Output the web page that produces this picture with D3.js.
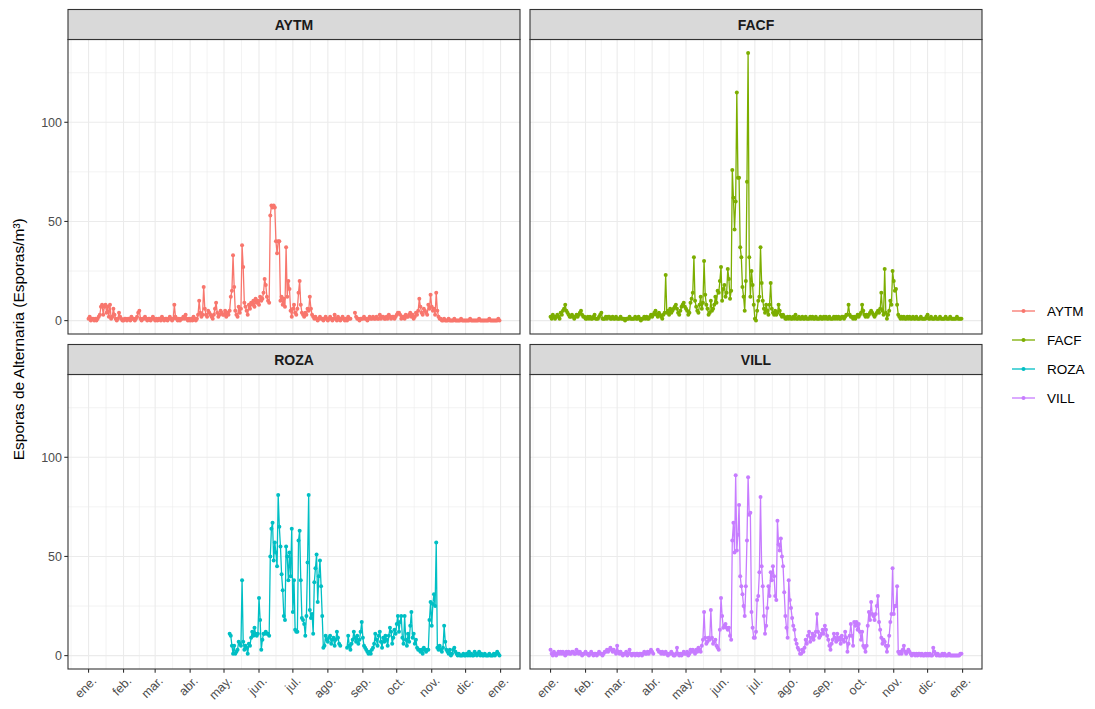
<!DOCTYPE html>
<html>
<head>
<meta charset="utf-8">
<script src="https://cdn.jsdelivr.net/npm/d3@7"></script>
<style>
  html, body { margin: 0; padding: 0; background: #ffffff; }
  svg { display: block; font-family: "Liberation Sans", Arial, sans-serif; }
</style>
</head>
<body>
<svg id="chart" width="1095" height="709"></svg>
<script>
// ---------------- DATA ----------------
const stations = ["AYTM", "FACF", "ROZA", "VILL"];
const colors = ["#F8766D", "#7CAE00", "#00BFC4", "#C77CFF"];
const monthLabels = ["ene.", "feb.", "mar.", "abr.", "may.", "jun.", "jul.", "ago.", "sep.", "oct.", "nov.", "dic.", "ene."];
const yTicks = [0, 50, 100];
const yTitle = "Esporas de Alternaria (Esporas/m\u00B3)";
const year = 2019;

// daily values, 1 Jan .. 31 Dec (null = no sample)
const aytm = [
  1,2,0,1,1,0,1,0,1,2, 3,7,8,3,7,8,4,7,2,8, 1,2,6,3,1,0,1,4,2,1, 0,            // ene
  0,1,1,0,1,1,0,2,1,1, 0,1,2,4,5,1,0,1,1,2, 1,0,1,1,0,1,2,1,                  // feb
  0,1,0,1,1,0,2,1,0,1, 1,0,1,2,1,0,1,8,2,1, 0,1,0,1,1,2,1,3,1,0, 1,           // mar
  0,1,0,2,1,0,1,3,10,4, 2,3,17,6,3,2,5,4,3,2, 1,3,6,9,4,2,3,5,4,3,            // abr
  3,5,2,4,3,5,12,15,33,17, 5,3,2,7,4,6,38,27,9,7, 5,3,8,6,9,8,10,7,11,9, 10,  // may
  8,12,10,11,14,21,18,12,10,9, 53,58,57,58,57,40,34,40,40,10, 12,8,11,7,37,12,20,16,5,2, // jun
  6,8,4,3,6,14,20,8,4,3, 2,4,3,6,5,12,6,3,2,1, 2,1,0,1,2,1,1,0,1,2, 1,        // jul
  0,1,2,1,0,1,3,1,0,2, 1,0,1,2,1,0,1,0,2,1, 1,null,null,null,4,2,1,1,0,1, 1,  // ago
  1,2,1,1,0,1,2,1,1,2, 1,1,2,1,1,3,1,2,2,1, 1,2,1,3,2,1,2,2,1,2,              // sep
  3,4,4,3,1,2,2,1,3,2, 2,3,4,2,3,1,2,4,3,5, 11,7,4,3,6,5,4,3,8,6, 13,         // oct
  7,5,6,3,14,5,2,1,1,0, 0,1,0,0,0,1,0,0,0,0, 1,0,0,0,0,0,1,0,0,0,            // nov
  0,0,0,0,1,0,0,0,0,0, 0,0,1,0,0,0,0,0,0,0, 0,1,0,0,0,0,0,0,0,1, 0           // dic
];
const facf = [
  2,1,3,2,1,2,3,2,1,4, 3,5,6,8,5,4,3,2,2,3, 2,1,2,3,2,3,4,5,3,2, 2,
  1,1,2,1,2,1,1,2,3,1, 1,1,2,3,4,1,1,1,2,1, 2,2,1,1,2,1,1,2,
  1,1,1,2,1,1,1,0,1,1, 1,2,1,1,1,1,2,1,1,2, 1,0,1,1,2,1,2,1,1,2, 3,
  2,3,4,5,3,2,4,3,2,1, 3,4,23,4,5,3,6,4,5,6, 7,8,6,4,3,5,7,8,9,7,
  6,5,3,4,9,11,14,32,10,7, 5,4,8,12,6,9,30,13,8,6, 3,4,10,5,6,8,12,9,15,14, 20,
  27,10,16,18,12,14,26,21,11,15, 76,62,46,60,115,72,72,37,32,17, 12,5,20,70,135,32,12,25,18,8,
  1,0,5,10,12,37,19,10,6,4, 8,5,3,8,19,6,4,3,5,3, 4,8,5,3,2,3,2,1,1,2, 1,
  2,1,1,2,1,3,1,1,2,1, 1,2,1,1,2,1,1,1,2,1, 2,1,1,2,1,1,1,2,1,1, 2,
  1,2,1,1,2,1,1,1,2,1, 2,1,2,1,1,2,2,1,2,3, 3,8,3,2,2,1,2,1,2,3,
  2,3,4,8,5,3,2,3,2,3, 4,5,4,3,2,3,4,5,4,6, 14,5,3,26,4,1,3,5,10,8, 25,
  20,15,16,8,3,2,1,2,1,2, 1,1,2,1,2,1,1,2,1,1, 2,1,1,1,2,1,1,1,1,2,
  3,1,1,2,1,1,1,2,1,1, 1,2,1,1,1,1,2,1,1,1, 2,1,1,1,1,1,2,1,1,1, 1
];
const roza = [
  null,null,null,null,null,null,null,null,null,null, null,null,null,null,null,null,null,null,null,null, null,null,null,null,null,null,null,null,null,null, null,
  null,null,null,null,null,null,null,null,null,null, null,null,null,null,null,null,null,null,null,null, null,null,null,null,null,null,null,null,
  null,null,null,null,null,null,null,null,null,null, null,null,null,null,null,null,null,null,null,null, null,null,null,null,null,null,null,null,null,null, null,
  null,null,null,null,null,null,null,null,null,null, null,null,null,null,null,null,null,null,null,null, null,null,null,null,null,null,null,null,null,null,
  null,null,null,null,null,11,10,5,1,5, 1,2,3,7,6,5,38,7,3,5, 4,1,6,5,9,12,10,14,11,10, 11,
  29,18,3,8,11,11,12,11,11,10, 50,64,67,48,57,52,45,81,65,55, 41,33,20,18,55,50,38,52,40,64,
  22,38,13,12,12,58,63,38,19,18, 16,10,20,47,81,23,19,21,11,37, 44,51,27,40,48,35,20,4,5,10, 8,
  7,9,10,6,8,9,5,8,12,9, 6,5,null,null,null,null,null,4,10,5, 3,6,8,12,9,7,10,6,8,12, 17,
  9,5,4,3,2,1,2,1,3,4, 6,11,8,5,10,12,7,4,9,7, 10,8,5,10,14,12,6,9,13,11,
  16,20,12,17,20,9,6,20,8,5, 11,7,15,22,9,11,6,8,4,3, 3,2,3,1,4,3,2,3,3,18, 27,
  15,26,31,25,57,4,3,5,3,2, 4,15,7,3,2,1,3,0,1,3, 4,2,1,0,1,0,0,0,1,0,
  0,1,0,2,0,1,0,0,2,1, 0,1,2,0,1,0,0,1,0,0, 0,1,0,0,0,1,0,1,2,1, 0
];
const vill = [
  3,1,0,2,1,0,1,2,1,2, 1,2,1,0,2,1,2,1,1,2, 2,1,1,3,2,1,2,1,0,1, 1,
  2,1,1,0,1,2,1,0,1,1, 0,1,2,1,1,0,1,2,2,3, 2,3,4,3,2,3,2,1,
  5,2,1,2,1,0,1,1,2,0, 1,3,1,0,1,1,0,1,1,0, 1,1,0,1,2,1,1,2,1,2, 3,
  2,1,null,null,null,3,2,2,1,2, 1,1,2,1,0,1,1,2,1,0, 0,1,4,1,0,1,0,1,2,1,
  1,2,0,1,3,2,3,2,1,3, 2,4,3,2,5,8,22,9,6,7, 9,8,23,9,6,7,8,5,4,3, 13,
  29,20,14,15,16,14,13,14,10,8, 58,67,52,91,53,61,76,40,35,31, 25,20,35,58,90,71,72,22,14,9,
  9,12,28,30,42,80,45,35,20,11, 15,24,35,30,42,38,45,40,30,28, 68,56,53,59,50,45,32,20,14,9, 38,
  28,24,19,15,13,8,6,4,3,1, 1,3,2,4,8,6,10,12,7,9, 11,8,10,12,21,12,9,10,11,13, 11,
  15,13,10,8,5,3,6,8,11,9, 7,11,8,9,6,10,8,7,12,9, 2,6,10,16,10,5,17,15,17,13,
  16,12,8,12,5,4,2,5,15,22, 18,27,21,20,18,21,25,30,17,13, 9,6,8,7,5,2,5,10,17,21, 44,
  21,25,25,35,2,1,2,1,3,5, 2,1,2,3,2,1,0,1,1,0, 1,0,1,1,0,1,0,0,1,0,
  1,0,1,0,0,4,2,1,0,1, 0,0,0,1,0,1,0,0,0,1, 0,0,0,0,0,0,0,0,0,1, 1
];
const seriesValues = [aytm, facf, roza, vill];

// ---------------- LAYOUT ----------------
const svg = d3.select("#chart");
const panelW = 452;
const colX = [68, 530];
const rowY = [{strip: 9.5, top: 39.5, bottom: 334}, {strip: 344.5, top: 374.5, bottom: 669}];
const DAY = 86400000;
const start = new Date(year, 0, 1), end = new Date(year, 11, 31);
const span = (end - start) / DAY;
const pad = span * 0.05;
const xDomain = [new Date(+start - pad * DAY), new Date(+end + pad * DAY)];
const yDomain = [-135 * 0.05, 135 * 1.05];
const monthTicks = d3.range(13).map(m => new Date(year, m, 1));
const minorX = d3.range(12).map(i => new Date((+monthTicks[i] + +monthTicks[i + 1]) / 2));
const minorX0 = new Date(+monthTicks[0] - (monthTicks[1] - monthTicks[0]) / 2);
const minorY = [25, 75, 125];

stations.forEach((st, i) => {
  const col = i % 2, row = Math.floor(i / 2);
  const x0 = colX[col], r = rowY[row];
  const x = d3.scaleTime().domain(xDomain).range([x0, x0 + panelW]);
  const y = d3.scaleLinear().domain(yDomain).range([r.bottom, r.top]);
  const g = svg.append("g");

  g.append("rect").attr("x", x0).attr("y", r.top).attr("width", panelW).attr("height", r.bottom - r.top).attr("fill", "#fff");
  g.selectAll(null).data(minorX.concat([minorX0]).filter(d => x(d) > x0 && x(d) < x0 + panelW)).enter().append("line")
    .attr("x1", d => x(d)).attr("x2", d => x(d)).attr("y1", r.top).attr("y2", r.bottom)
    .attr("stroke", "#EBEBEB").attr("stroke-width", 0.6);
  g.selectAll(null).data(minorY).enter().append("line")
    .attr("x1", x0).attr("x2", x0 + panelW).attr("y1", d => y(d)).attr("y2", d => y(d))
    .attr("stroke", "#EBEBEB").attr("stroke-width", 0.6);
  g.selectAll(null).data(monthTicks).enter().append("line")
    .attr("x1", d => x(d)).attr("x2", d => x(d)).attr("y1", r.top).attr("y2", r.bottom)
    .attr("stroke", "#EBEBEB").attr("stroke-width", 1.1);
  g.selectAll(null).data(yTicks).enter().append("line")
    .attr("x1", x0).attr("x2", x0 + panelW).attr("y1", d => y(d)).attr("y2", d => y(d))
    .attr("stroke", "#EBEBEB").attr("stroke-width", 1.1);

  const data = seriesValues[i].map((v, k) => ({date: new Date(year, 0, 1 + k), value: v}));
  const line = d3.line().defined(d => d.value != null).x(d => x(d.date)).y(d => y(d.value));
  g.append("path").datum(data).attr("d", line).attr("fill", "none")
    .attr("stroke", colors[i]).attr("stroke-width", 1.3).attr("stroke-linejoin", "round");
  g.selectAll(null).data(data.filter(d => d.value != null)).enter().append("circle")
    .attr("cx", d => x(d.date)).attr("cy", d => y(d.value)).attr("r", 2).attr("fill", colors[i]);

  g.append("rect").attr("x", x0).attr("y", r.top).attr("width", panelW).attr("height", r.bottom - r.top)
    .attr("fill", "none").attr("stroke", "#333333").attr("stroke-width", 1.1);
  g.append("rect").attr("x", x0).attr("y", r.strip).attr("width", panelW).attr("height", r.top - r.strip)
    .attr("fill", "#D9D9D9").attr("stroke", "#333333").attr("stroke-width", 1.1);
  g.append("text").attr("x", x0 + panelW / 2).attr("y", (r.strip + r.top) / 2).attr("dy", "0.36em")
    .attr("text-anchor", "middle").attr("font-size", 14).attr("font-weight", "bold").attr("fill", "#1A1A1A").text(st);

  if (col === 0) {
    const ya = g.append("g");
    ya.selectAll(null).data(yTicks).enter().append("line")
      .attr("x1", x0 - 3.7).attr("x2", x0).attr("y1", d => y(d)).attr("y2", d => y(d))
      .attr("stroke", "#333333").attr("stroke-width", 1.1);
    ya.selectAll(null).data(yTicks).enter().append("text")
      .attr("x", x0 - 6).attr("y", d => y(d)).attr("dy", "0.36em").attr("text-anchor", "end")
      .attr("font-size", 12.5).attr("fill", "#4D4D4D").text(d => d);
  }
  if (row === 1) {
    const xa = g.append("g");
    xa.selectAll(null).data(monthTicks).enter().append("line")
      .attr("x1", d => x(d)).attr("x2", d => x(d)).attr("y1", r.bottom).attr("y2", r.bottom + 3.7)
      .attr("stroke", "#333333").attr("stroke-width", 1.1);
    xa.selectAll(null).data(monthTicks).enter().append("text")
      .attr("transform", d => `translate(${x(d) + 2},${r.bottom + 6}) rotate(-45)`)
      .attr("dy", "0.75em").attr("text-anchor", "end")
      .attr("font-size", 12.5).attr("fill", "#4D4D4D").text((d, k) => monthLabels[k]);
  }
});

svg.append("text").attr("transform", `translate(24,${(rowY[0].strip + rowY[1].bottom) / 2}) rotate(-90)`)
  .attr("text-anchor", "middle").attr("font-size", 15.5).attr("fill", "#000").text(yTitle);

const legY0 = 311, legStep = 29;
const leg = svg.append("g");
stations.forEach((st, i) => {
  const yy = legY0 + i * legStep;
  leg.append("line").attr("x1", 1012).attr("x2", 1035).attr("y1", yy).attr("y2", yy)
    .attr("stroke", colors[i]).attr("stroke-width", 1.3);
  leg.append("circle").attr("cx", 1023.5).attr("cy", yy).attr("r", 2).attr("fill", colors[i]);
  leg.append("text").attr("x", 1047).attr("y", yy).attr("dy", "0.36em").attr("font-size", 13.5)
    .attr("fill", "#000").text(st);
});
</script>
</body>
</html>
